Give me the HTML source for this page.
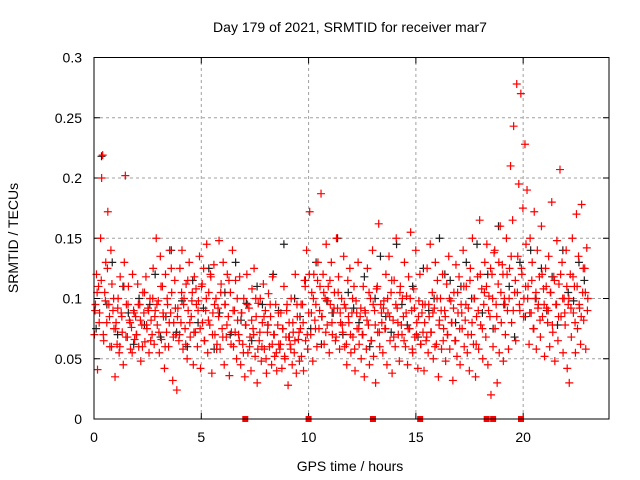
<!DOCTYPE html>
<html><head><meta charset="utf-8"><style>
html,body{margin:0;padding:0;background:#fff}
svg{display:block;font-family:"Liberation Sans",sans-serif}
</style></head><body>
<svg id="chart" width="640" height="480" viewBox="0 0 640 480">
<text x="350" y="32" font-size="14" text-anchor="middle">Day 179 of 2021, SRMTID for receiver mar7</text>
<text x="350" y="471" font-size="14" text-anchor="middle">GPS time / hours</text>
<text transform="translate(18,238) rotate(-90)" font-size="14" text-anchor="middle">SRMTID / TECUs</text>
<g id="grid"></g>
<g id="ticks"></g>
<g id="marks"></g>
<rect x="94" y="57.5" width="515" height="361.5" fill="none" stroke="#000" stroke-width="1"/>
</svg>
<script>
const xTicks=[0,5,10,15,20];
const yTicks=[0,0.05,0.1,0.15,0.2,0.25,0.3];
const yTickLabels=["0","0.05","0.1","0.15","0.2","0.25","0.3"];
const redStart=0.02, redStep=0.048;
const redValues=[70,95,120,41,110,88,150,200,219,65,105,130,80,172,95,60,140,112,90,75,
35,80,62,100,55,118,88,72,45,130,202,95,68,110,82,58,76,120,90,66,
85,70,112,60,95,48,78,105,88,64,118,75,92,55,100,82,70,125,62,90,
150,78,98,55,135,66,110,85,42,120,72,95,60,140,88,105,32,80,115,70,
24,92,65,125,80,140,58,100,75,112,50,90,130,68,85,105,45,118,72,95,
60,98,135,42,110,80,125,65,90,145,55,105,78,118,38,88,128,70,100,62,
92,148,58,112,75,130,45,95,68,120,85,36,105,72,140,60,90,115,50,82,
70,118,45,88,62,100,35,78,120,55,92,68,40,108,75,125,52,85,30,96,
65,100,48,80,112,58,90,38,72,104,60,85,45,118,70,52,95,40,78,62,
58,88,42,75,110,50,68,95,28,80,62,100,45,72,55,120,38,85,66,48,
75,52,95,40,115,65,140,58,88,172,70,105,48,120,82,95,60,130,75,110,
187,85,120,62,100,145,78,110,55,95,130,70,88,105,65,150,92,118,58,80,
100,72,135,60,92,45,115,80,125,55,88,68,110,40,98,75,130,62,85,50,
70,110,35,88,58,125,78,45,100,65,140,52,90,30,108,72,162,60,95,80,
55,98,75,120,45,88,135,65,105,38,82,115,60,150,92,70,48,110,78,100,
85,130,60,102,45,118,75,155,90,55,108,68,140,80,42,98,120,62,88,72,
40,95,65,125,55,85,145,72,105,50,92,130,62,115,35,82,100,58,120,75,
90,48,112,70,135,58,98,80,32,105,65,128,52,88,118,45,95,75,140,60,
82,110,55,92,40,125,70,150,62,100,35,85,118,58,165,78,108,50,95,130,
68,145,45,102,85,20,120,60,138,75,95,30,112,55,160,80,128,48,100,70,
150,90,58,125,210,80,165,243,105,65,278,135,195,90,270,120,175,100,228,145,
190,110,62,150,88,130,75,172,100,58,140,95,118,68,160,85,108,52,125,92,
80,135,60,105,180,72,118,48,95,148,65,112,207,85,130,55,100,78,140,42,
95,30,120,68,150,88,110,55,170,75,135,92,62,178,105,82,125,58,142,100];
const red2Start=0.05, red2Step=0.096;
const red2Values=[90,105,80,115,70,98,125,85,60,100,
75,92,60,85,110,68,95,80,55,88,
70,95,82,60,105,78,90,65,100,85,
95,72,110,88,60,100,80,125,68,92,
85,70,105,95,62,115,80,98,72,108,
90,75,112,65,100,82,120,70,95,58,
85,105,68,95,78,115,62,90,72,100,
65,88,55,78,95,60,82,70,100,58,
72,60,85,50,78,95,62,70,55,88,
62,75,52,90,68,58,80,65,95,72,
95,80,110,70,120,88,100,75,115,90,
85,105,72,98,115,80,92,68,105,88,
78,95,62,85,70,100,58,88,75,92,
70,90,82,105,65,95,78,110,72,88,
92,75,100,85,115,68,95,80,105,70,
65,88,75,100,58,92,70,85,62,95,
80,68,95,72,88,60,100,78,90,65,
85,70,100,80,92,65,105,75,88,110,
95,70,115,80,100,62,90,120,75,105,
110,90,125,100,140,85,130,105,120,95,
120,100,135,90,115,105,95,125,85,110,
100,88,115,75,105,92,82,120,95,110,
90,105,78,115,95,85,120,100,88,110,
100,92,118,80,110,95,85,125,105,90];
const blackStart=0.1, blackStep=0.25;
const blackValues=[75,218,95,130,70,110,88,62,100,78,95,120,68,85,140,72,98,60,115,80,
92,125,58,88,105,70,130,82,96,65,110,95,78,120,90,145,68,100,85,115,
75,130,62,98,88,150,70,105,92,80,118,60,100,135,85,72,145,95,78,110,
68,125,90,100,150,120,115,80,110,130,100,145,88,120,75,160,95,110,68,130,
85,140,100,125,90,118,78,140,105,98,130,115];
const zeroTimes=[7.05,10.0,13.0,15.2,18.3,18.6,19.9];

const NS="http://www.w3.org/2000/svg";
const X0=94,X1=609,Y0=419,Y1=57.5;
function xs(h){return X0+(h/24)*(X1-X0);}
function ys(v){return Y0-(v/0.3)*(Y0-Y1);}
function mk(tag,attrs,parent){const e=document.createElementNS(NS,tag);for(const k in attrs)e.setAttribute(k,attrs[k]);parent.appendChild(e);return e;}
const grid=document.getElementById('grid'),ticks=document.getElementById('ticks'),marks=document.getElementById('marks');
xTicks.forEach(t=>{
  const x=xs(t);
  if(t>0){const g=mk('line',{x1:x,x2:x,y1:Y0,y2:Y1,stroke:'#a0a0a0','stroke-dasharray':'3,3','stroke-width':1},grid);
  
  }
  const tk=mk('path',{d:`M${x},${Y0}v-6M${x},${Y1}v6`,stroke:'#000','stroke-width':1},ticks);
  
  
  const lb=mk('text',{x:x,y:442,'font-size':14,'text-anchor':'middle'},ticks);lb.textContent=String(t);
  
  
});
yTicks.forEach((t,i)=>{
  const y=ys(t);
  if(t>0&&t<0.3){const g=mk('line',{x1:X0,x2:X1,y1:y,y2:y,stroke:'#a0a0a0','stroke-dasharray':'3,3','stroke-width':1},grid);
  
  }
  const tk=mk('path',{d:`M${X0},${y}h6M${X1},${y}h-6`,stroke:'#000','stroke-width':1},ticks);
  
  
  const lb=mk('text',{x:82,y:y+5,'font-size':14,'text-anchor':'end'},ticks);lb.textContent=yTickLabels[i];
  
  
});
function plus(h,v,color,name){
  const x=xs(h),y=ys(v);
  const p=mk('path',{d:`M${x-4},${y}h8M${x},${y-4}v8`,stroke:color,'stroke-width':1.2},marks);
  
  
}
blackValues.forEach((v,i)=>plus(blackStart+i*blackStep,v/1000,'#202020','black-point'));
redValues.forEach((v,i)=>plus(redStart+i*redStep,v/1000,'#ff0000','red-point'));
red2Values.forEach((v,i)=>plus(red2Start+i*red2Step,v/1000,'#ff0000','red-point'));
zeroTimes.forEach(t=>{
  const r=mk('rect',{x:xs(t)-3,y:Y0-3,width:6,height:6,fill:'#ff0000'},marks);
  
  
});
</script>
</body></html>
